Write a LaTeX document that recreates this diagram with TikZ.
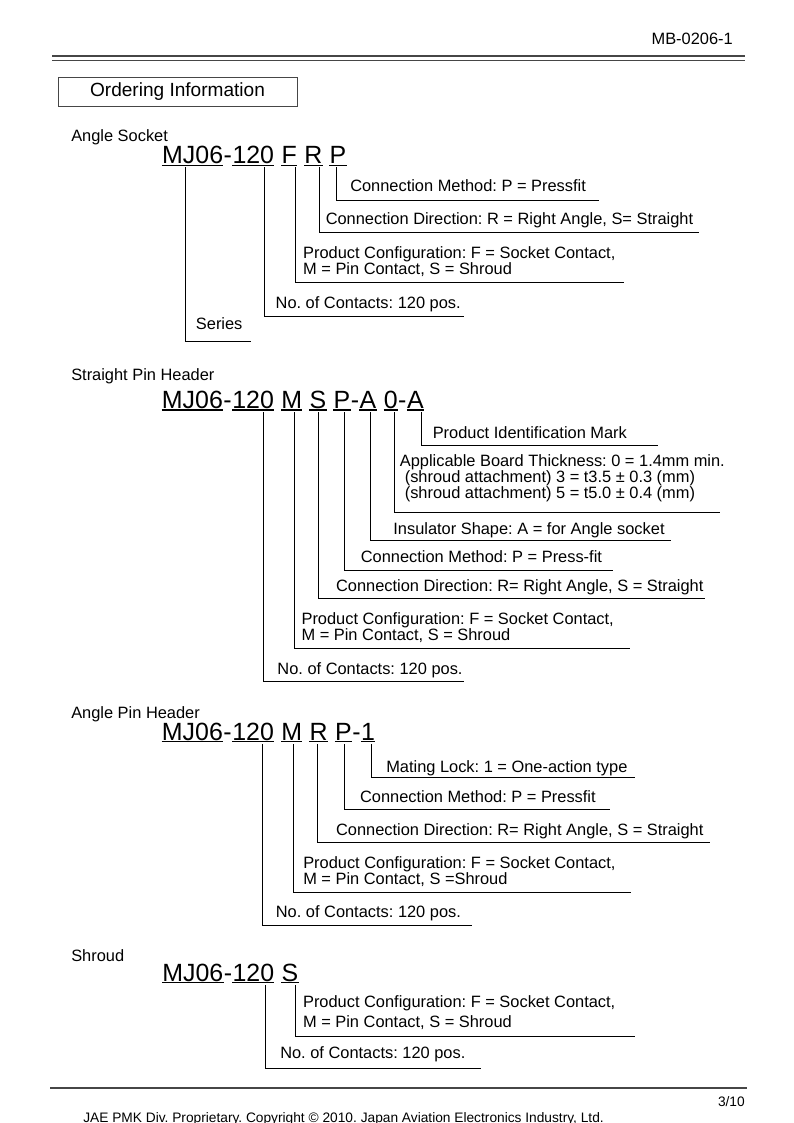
\documentclass[tikz,border=0pt]{standalone}
\usepackage{fontspec}
\setmainfont{Liberation Sans}
\frenchspacing
\definecolor{rulegray}{RGB}{70,70,70}
\newcommand{\descfont}{\fontsize{12.3}{12}\selectfont}
\newcommand{\partfont}{\fontsize{18.7}{20}\selectfont}
\newcommand{\titlefont}{\fontsize{14.3}{16}\selectfont}
\newcommand{\footfont}{\fontsize{10.3}{12}\selectfont}

\begin{document}
\begin{tikzpicture}[x=0.75pt,y=-0.75pt,
desc/.style={font=\descfont,anchor=base west,inner sep=0pt,align=left},
pn/.style={font=\partfont,anchor=base west,inner sep=0pt},
gap/.style={xshift=5.2pt},
uline/.style={line width=0.9pt},
lead/.style={line width=0.6pt}]
\useasboundingbox (0,0) rectangle (793,1123);
% page head
\node[font=\descfont,anchor=base east,inner sep=0pt] (docno) at (733,45) {MB-0206-1};
\draw[rulegray,line width=1.6pt] (52,56) -- (745,56);
\draw[rulegray,line width=1.3pt] (52,60.5) -- (745,60.5);
\node[draw=rulegray,line width=0.7pt,minimum width=179.2pt,minimum height=21.4pt,
font=\titlefont] (title) at (177.5,91.8) {Ordering Information};
% Angle Socket (multi-line texts sit on their last baseline)
\node[desc] (lblAS) at (71,141.5) {Angle Socket};
\node[pn] (asSer) at (161.9,163.5) {MJ06};
\node[pn] (asDash) at (asSer.base east) {-};
\node[pn] (asPos) at (asDash.base east) {120};
\node[pn,gap] (asCfg) at (asPos.base east) {F};
\node[pn,gap] (asDir) at (asCfg.base east) {R};
\node[pn,gap] (asMet) at (asDir.base east) {P};
\foreach \n in {asSer,asPos,asCfg,asDir,asMet}
\draw[uline] ([yshift=-1.3pt]\n.base west) -- ([yshift=-1.3pt]\n.base east);
\node[desc] (asMetT) at (350,191.7) {Connection Method: P = Pressfit};
\node[desc] (asDirT) at (325.5,224.3) {Connection Direction: R = Right Angle, S= Straight};
\node[desc] (asCfgT) at (302.9,274.3) {Product Configuration: F = Socket Contact,\\M = Pin Contact, S = Shroud};
\node[desc] (asPosT) at (275.4,308.7) {No. of Contacts: 120 pos.};
\node[desc] (asSerT) at (195.7,329.3) {Series};
\coordinate (asMetE) at (599.3,200);
\coordinate (asDirE) at (699,232.7);
\coordinate (asCfgE) at (623.8,282.7);
\coordinate (asPosE) at (464.3,316);
\coordinate (asSerE) at (251.3,341);
\draw[lead] (asMet.base) ++(-2,4) |- (asMetE);
\draw[lead] (asDir.base) ++(5.8,4) |- (asDirE);
\draw[lead] (asCfg.base) ++(5.9,4) |- (asCfgE);
\draw[lead] (asPos.base) ++(10.8,4) |- (asPosE);
\draw[lead] (asSer.base) ++(-7.1,4) |- (asSerE);
% Straight Pin Header
\node[desc] (lblSP) at (71,380) {Straight Pin Header};
\node[pn] (spSer) at (161.7,408.3) {MJ06};
\node[pn] (spDash) at (spSer.base east) {-};
\node[pn] (spPos) at (spDash.base east) {120};
\node[pn,gap] (spCfg) at (spPos.base east) {M};
\node[pn,gap] (spDir) at (spCfg.base east) {S};
\node[pn,gap] (spMet) at (spDir.base east) {P};
\node[pn] (spDashB) at (spMet.base east) {-};
\node[pn] (spIns) at (spDashB.base east) {A};
\node[pn,gap] (spBrd) at (spIns.base east) {0};
\node[pn] (spDashC) at (spBrd.base east) {-};
\node[pn] (spId) at (spDashC.base east) {A};
\foreach \n in {spSer,spPos,spCfg,spDir,spMet,spIns,spBrd,spId}
\draw[uline] ([yshift=-1.3pt]\n.base west) -- ([yshift=-1.3pt]\n.base east);
\node[desc] (spIdT) at (432.5,438.7) {Product Identification Mark};
\node[desc] (spBrdT) at (399.6,498.7) {Applicable Board Thickness: 0 = 1.4mm min.\\
\hspace*{3.7pt}(shroud attachment) 3 = t3.5 ± 0.3 (mm)\\
\hspace*{3.7pt}(shroud attachment) 5 = t5.0 ± 0.4 (mm)};
\node[desc] (spInsT) at (393.1,534) {Insulator Shape: A = for Angle socket};
\node[desc] (spMetT) at (360.6,562.7) {Connection Method: P = Press-fit};
\node[desc] (spDirT) at (335.8,591) {Connection Direction: R= Right Angle, S = Straight};
\node[desc] (spCfgT) at (301.3,640.3) {Product Configuration: F = Socket Contact,\\M = Pin Contact, S = Shroud};
\node[desc] (spPosT) at (277.2,674.3) {No. of Contacts: 120 pos.};
\coordinate (spIdE) at (657.9,445.7);
\coordinate (spBrdE) at (720.2,512.3);
\coordinate (spInsE) at (671.3,540.7);
\coordinate (spMetE) at (613,570.7);
\coordinate (spDirE) at (704.9,598.3);
\coordinate (spCfgE) at (629.6,648.3);
\coordinate (spPosE) at (464,681.7);
\draw[lead] (spId.base) ++(6.4,4) |- (spIdE);
\draw[lead] (spBrd.base) ++(3.9,4) |- (spBrdE);
\draw[lead] (spIns.base) ++(2.7,4) |- (spInsE);
\draw[lead] (spMet.base) ++(2.8,4) |- (spMetE);
\draw[lead] (spDir.base) ++(0,4) |- (spDirE);
\draw[lead] (spCfg.base) ++(2.5,4) |- (spCfgE);
\draw[lead] (spPos.base) ++(10,4) |- (spPosE);
% Angle Pin Header
\node[desc] (lblAP) at (71,718.7) {Angle Pin Header};
\node[pn] (apSer) at (161.7,740) {MJ06};
\node[pn] (apDash) at (apSer.base east) {-};
\node[pn] (apPos) at (apDash.base east) {120};
\node[pn,gap] (apCfg) at (apPos.base east) {M};
\node[pn,gap] (apDir) at (apCfg.base east) {R};
\node[pn,gap] (apMet) at (apDir.base east) {P};
\node[pn] (apDashB) at (apMet.base east) {-};
\node[pn] (apLock) at (apDashB.base east) {1};
\foreach \n in {apSer,apPos,apCfg,apDir,apMet,apLock}
\draw[uline] ([yshift=-1.3pt]\n.base west) -- ([yshift=-1.3pt]\n.base east);
\node[desc] (apLockT) at (386,772) {Mating Lock: 1 = One-action type};
\node[desc] (apMetT) at (359.8,802.7) {Connection Method: P = Pressfit};
\node[desc] (apDirT) at (335.8,835) {Connection Direction: R= Right Angle, S = Straight};
\node[desc] (apCfgT) at (303,884.3) {Product Configuration: F = Socket Contact,\\M = Pin Contact, S =Shroud};
\node[desc] (apPosT) at (275.6,917.7) {No. of Contacts: 120 pos.};
\coordinate (apLockE) at (634.7,777.3);
\coordinate (apMetE) at (609.6,809.3);
\coordinate (apDirE) at (710.3,842.7);
\coordinate (apCfgE) at (631.2,892.7);
\coordinate (apPosE) at (471.7,925.7);
\draw[lead] (apLock.base) ++(3,4) |- (apLockE);
\draw[lead] (apMet.base) ++(0.8,4) |- (apMetE);
\draw[lead] (apDir.base) ++(-1.1,4) |- (apDirE);
\draw[lead] (apCfg.base) ++(2,4) |- (apCfgE);
\draw[lead] (apPos.base) ++(9.3,4) |- (apPosE);
% Shroud
\node[desc] (lblSH) at (71,961) {Shroud};
\node[pn] (shSer) at (162,981) {MJ06};
\node[pn] (shDash) at (shSer.base east) {-};
\node[pn] (shPos) at (shDash.base east) {120};
\node[pn,gap] (shCfg) at (shPos.base east) {S};
\foreach \n in {shSer,shPos,shCfg}
\draw[uline] ([yshift=-1.3pt]\n.base west) -- ([yshift=-1.3pt]\n.base east);
\node[desc] (shCfgT) at (302.8,1027) {Product Configuration: F = Socket Contact,\\[3pt]M = Pin Contact, S = Shroud};
\node[desc] (shPosT) at (280,1058) {No. of Contacts: 120 pos.};
\coordinate (shCfgE) at (634.6,1036);
\coordinate (shPosE) at (480.9,1068);
\draw[lead] (shCfg.base) ++(5.9,4) |- (shCfgE);
\draw[lead] (shPos.base) ++(12.4,4) |- (shPosE);
% page foot
\draw[rulegray,line width=1.6pt] (50,1088) -- (747,1088);
\node[font=\footfont,anchor=base east,inner sep=0pt] (pageno) at (745,1106) {3/10};
\node[font=\footfont,anchor=base west,inner sep=0pt] (copy) at (83,1122)
{JAE PMK Div. Proprietary. Copyright © 2010. Japan Aviation Electronics Industry, Ltd.};
\end{tikzpicture}
\end{document}
